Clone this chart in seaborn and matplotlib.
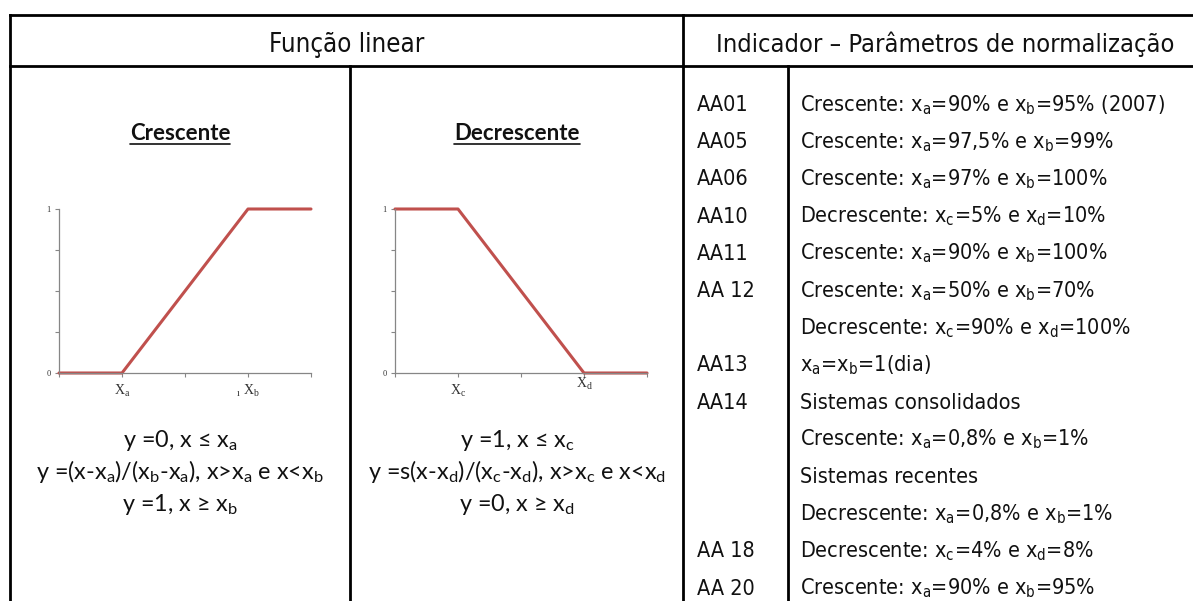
import matplotlib
matplotlib.use("Agg")
import matplotlib.pyplot as plt
from matplotlib import font_manager
import seaborn as sns
import pandas as pd

# ===== dados =====
x_pts = [0, 1, 3, 4]
y_cresc = [0, 0, 1, 1]
y_decresc = [1, 1, 0, 0]
y_ticks = [0, 0.25, 0.5, 0.75, 1]
y_ticklabels = ["0", "", "", "", "1"]
x_ticks = [0, 1, 2, 3, 4]
xlab_cresc = ["", r"$\mathregular{X_a}$", "", r"$\mathregular{_ı\ X_b}$", ""]
xlab_decresc = ["", r"$\mathregular{X_c}$", "", r"$\mathregular{X_d}$", ""]

XA = r"$\mathregular{x_a}$"
XB = r"$\mathregular{x_b}$"
XC = r"$\mathregular{x_c}$"
XD = r"$\mathregular{x_d}$"

cabecalhos = ["Função linear", "Indicador – Parâmetros de normalização"]
titulos = ["Crescente", "Decrescente"]
eq_cresc = [
    "y =0, x ≤ " + XA,
    "y =(x-" + XA + ")/(" + XB + "-" + XA + "), x>" + XA + " e x<" + XB,
    "y =1, x ≥ " + XB,
]
eq_decresc = [
    "y =1, x ≤ " + XC,
    "y =s(x-" + XD + ")/(" + XC + "-" + XD + "), x>" + XC + " e x<" + XD,
    "y =0, x ≥ " + XD,
]
codigos = ["AA01", "AA05", "AA06", "AA10", "AA11", "AA 12", "", "AA13",
           "AA14", "", "", "", "AA 18", "AA 20"]
parametros = [
    "Crescente: " + XA + "=90% e " + XB + "=95% (2007)",
    "Crescente: " + XA + "=97,5% e " + XB + "=99%",
    "Crescente: " + XA + "=97% e " + XB + "=100%",
    "Decrescente: " + XC + "=5% e " + XD + "=10%",
    "Crescente: " + XA + "=90% e " + XB + "=100%",
    "Crescente: " + XA + "=50% e " + XB + "=70%",
    "Decrescente: " + XC + "=90% e " + XD + "=100%",
    XA + "=" + XB + "=1(dia)",
    "Sistemas consolidados",
    "Crescente: " + XA + "=0,8% e " + XB + "=1%",
    "Sistemas recentes",
    "Decrescente: " + XA + "=0,8% e " + XB + "=1%",
    "Decrescente: " + XC + "=4% e " + XD + "=8%",
    "Crescente: " + XA + "=90% e " + XB + "=95%",
]


def tem_fonte(nome):
    try:
        font_manager.findfont(nome, fallback_to_default=False)
        return True
    except ValueError:
        return False


sns.set_theme(style="white")
narrow = "Liberation Sans Narrow" if tem_fonte("Liberation Sans Narrow") else "DejaVu Sans"
calibri = "Lato"
serif = "Liberation Serif"
plt.rcParams["font.family"] = [narrow, "DejaVu Sans"]

fig = plt.figure(figsize=(11.93, 6.01), dpi=100)
fig.patch.set_facecolor("white")

# eixo de fundo em pixels para a tabela
base = fig.add_axes([0, 0, 1, 1])
base.set_xlim(0, 1193)
base.set_ylim(601, 0)
base.axis("off")

regras = [((10, 1193), (15, 15)), ((10, 1193), (66, 66)),
          ((10, 10), (15, 601)), ((683, 683), (15, 601)),
          ((350, 350), (66, 601)), ((788, 788), (66, 601))]
for xs, ys in regras:
    base.plot(xs, ys, color="black", lw=2.0, solid_capstyle="projecting")

# cabecalhos
base.text(347, 52, cabecalhos[0], ha="center", va="baseline", fontsize=18.5,
          family=narrow, fontstretch="condensed", color="#111111")
base.text(945, 52, cabecalhos[1], ha="center", va="baseline", fontsize=18.3,
          family=narrow, fontstretch="condensed", color="#111111")

# coluna dos indicadores
y0, passo = 111, 37.2
for i, (cod, par) in enumerate(zip(codigos, parametros)):
    yy = y0 + i * passo
    if cod:
        base.text(697, yy, cod, ha="left", va="baseline", fontsize=15.5,
                  family=narrow, fontstretch="condensed", color="#111111")
    base.text(800, yy, par, ha="left", va="baseline", fontsize=15.5,
              family=narrow, fontstretch="condensed", color="#111111")

# titulos sublinhados
tits = []
for cx, t in zip([180, 517], titulos):
    tits.append(base.text(cx, 140, t, ha="center", va="baseline", fontsize=16,
                          family=calibri, fontweight="bold", color="#111111"))

# equacoes
for cx, eqs in zip([180, 517], [eq_cresc, eq_decresc]):
    for j, e in enumerate(eqs):
        base.text(cx, 447 + j * 32, e, ha="center", va="baseline", fontsize=16.8,
                  family=calibri, color="#111111")


def desenha(rect, yv, xlabels):
    ax = fig.add_axes(rect)
    df = pd.DataFrame({"x": x_pts, "y": yv})
    sns.lineplot(data=df, x="x", y="y", ax=ax, color="#C0504D", lw=2.2)
    for ln in ax.lines:
        ln.set_clip_on(False)
    ax.set_xlim(0, 4)
    ax.set_ylim(0, 1)
    ax.set_xticks(x_ticks, xlabels)
    ax.set_yticks(y_ticks, y_ticklabels)
    ax.set_xlabel("")
    ax.set_ylabel("")
    ax.patch.set_alpha(0)
    for s in ["top", "right"]:
        ax.spines[s].set_visible(False)
    for s in ["left", "bottom"]:
        ax.spines[s].set_color("#868686")
        ax.spines[s].set_linewidth(0.9)
    ax.tick_params(axis="both", direction="out", length=3, width=0.8,
                   color="#868686", bottom=True, left=True)
    ax.tick_params(axis="y", labelsize=6, pad=3)
    ax.tick_params(axis="x", labelsize=10, pad=4)
    for lb in ax.get_xticklabels() + ax.get_yticklabels():
        lb.set_family(serif)
        lb.set_color("#333333")
    return ax


desenha([59 / 1193, 1 - 373 / 601, 252 / 1193, 164 / 601], y_cresc, xlab_cresc)
ax_d = desenha([395 / 1193, 1 - 373 / 601, 252 / 1193, 164 / 601], y_decresc, xlab_decresc)
# rotulo Xd um pouco mais alto, como no original
ax_d.get_xticklabels()[3].set_y(0.04)

# sublinhado dos titulos
fig.canvas.draw()
r = fig.canvas.get_renderer()
inv = base.transData.inverted()
for t in tits:
    bb = t.get_window_extent(r)
    (x1, _), (x2, _) = inv.transform([(bb.x0, bb.y0), (bb.x1, bb.y0)])
    base.plot([x1, x2], [144, 144], color="#111111", lw=1.2)

fig.savefig("out.png", dpi=100)
